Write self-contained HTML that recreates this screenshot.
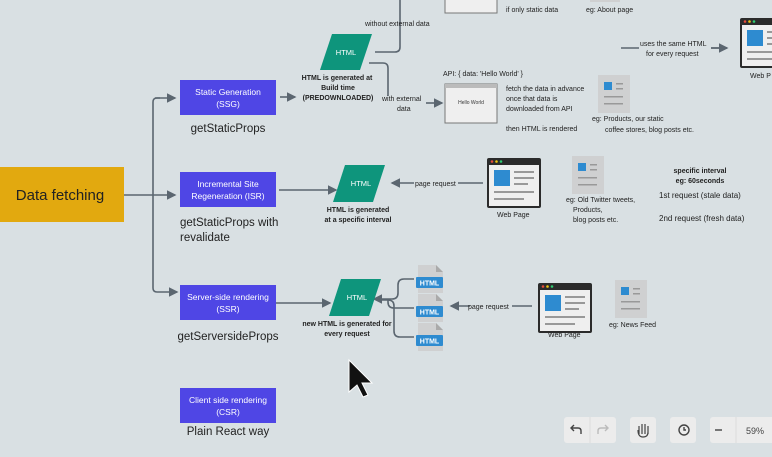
<!DOCTYPE html>
<html><head><meta charset="utf-8"><style>
body{margin:0;width:772px;height:457px;overflow:hidden;background:#d9e0e3;font-family:"Liberation Sans",sans-serif}
svg{display:block}
</style></head><body>
<svg width="772" height="457" viewBox="0 0 772 457" font-family="Liberation Sans, sans-serif">
<defs>
<marker id="a" markerWidth="6" markerHeight="6" refX="5" refY="3" orient="auto"><path d="M0,0L6,3L0,6z" fill="#5b6670"/></marker>
<g id="doc"><rect width="32" height="38" fill="#cfd0d1"/><rect x="6" y="7" width="8" height="8" fill="#2e8bd0"/><rect x="18" y="8" width="7" height="1.5" fill="#999"/><rect x="18" y="13" width="7" height="1.5" fill="#999"/><rect x="6" y="21" width="19" height="1.5" fill="#999"/><rect x="6" y="28" width="19" height="1.5" fill="#999"/></g>
<g id="web"><rect width="54" height="50" rx="2" fill="#2b2b2b"/><rect x="2" y="7" width="50" height="41" fill="#efefef"/><circle cx="5" cy="3.5" r="1.3" fill="#e74c3c"/><circle cx="9.5" cy="3.5" r="1.3" fill="#f1c40f"/><circle cx="14" cy="3.5" r="1.3" fill="#2ecc71"/><rect x="7" y="12" width="16" height="16" fill="#2e8bd0"/><rect x="27" y="13" width="20" height="2" fill="#999"/><rect x="27" y="19" width="20" height="2" fill="#999"/><rect x="27" y="25" width="14" height="2" fill="#999"/><rect x="7" y="33" width="40" height="2" fill="#999"/><rect x="7" y="40" width="30" height="2" fill="#999"/></g>
<g id="file"><path d="M2,0h18l7,7v21h-25z" fill="#cfd0d1"/><path d="M20,0v7h7z" fill="#aaa"/><rect x="0" y="12" width="27" height="11" rx="1" fill="#2e8bd0"/><text x="13.5" y="20.5" font-size="7" font-weight="bold" fill="#fff" text-anchor="middle">HTML</text></g>
</defs>
<g fill="none" stroke="#5b6670" stroke-width="1.6">
<path d="M124,195H150"/>
<path d="M160,98h-3q-4,0-4,4v186q0,4,4,4h20" marker-end="url(#a)"/>
<path d="M150,195h25" marker-end="url(#a)"/>
<path d="M155,98h20" marker-end="url(#a)"/>
<path d="M280,97h15" marker-end="url(#a)"/>
<path d="M375,52h20q5,0,5,-5V0"/>
<path d="M369,63h14q5,0,5,5v28"/>
<path d="M426,103h16" marker-end="url(#a)"/>
<path d="M621,48h18M711,48h16" />
<path d="M711,48h16" marker-end="url(#a)"/>
<path d="M279,190h57" marker-end="url(#a)"/>
<path d="M483,183h-25M414,183h-22" marker-end="url(#a)"/>
<path d="M276,303h54" marker-end="url(#a)"/>
<path d="M532,306h-20M470,306h-19" marker-end="url(#a)"/>
<path d="M414,279h-10q-6,0,-6,6v8q0,6,-6,6h-18" marker-end="url(#a)"/>
<path d="M414,308h-20q-6,0,-6,-6v-2"/>
<path d="M414,337h-14q-6,0,-6,-6v-25q0,-6,-6,-6h-6"/>
</g>
<rect x="0" y="167" width="124" height="55" fill="#e2a90f"/>
<text x="60" y="200" font-size="15" text-anchor="middle" fill="#222">Data fetching</text>
<g fill="#4f46e5"><rect x="180" y="80" width="96" height="35"/><rect x="180" y="172" width="96" height="35"/><rect x="180" y="285" width="96" height="35"/><rect x="180" y="388" width="96" height="35"/></g>
<g font-size="8.5" fill="#fff" text-anchor="middle">
<text x="228" y="95">Static Generation</text><text x="228" y="107">(SSG)</text>
<text x="228" y="187">Incremental Site</text><text x="228" y="199">Regeneration (ISR)</text>
<text x="228" y="300">Server-side rendering</text><text x="228" y="312">(SSR)</text>
<text x="228" y="403">Client side rendering</text><text x="228" y="415">(CSR)</text>
</g>
<g font-size="11.5" fill="#222">
<text x="228" y="132" text-anchor="middle">getStaticProps</text>
<text x="180" y="226">getStaticProps with</text><text x="180" y="241">revalidate</text>
<text x="228" y="340" text-anchor="middle">getServersideProps</text>
<text x="228" y="435" text-anchor="middle">Plain React way</text>
</g>
<g fill="#0e957c"><path d="M332,34h40l-12,36h-40z"/><path d="M345,165h40l-12,37h-40z"/><path d="M341,279h40l-12,37h-40z"/></g>
<g font-size="7.5" fill="#fff" text-anchor="middle"><text x="346" y="55">HTML</text><text x="361" y="186">HTML</text><text x="357" y="300">HTML</text></g>
<g font-size="7" font-weight="bold" fill="#222" text-anchor="middle">
<text x="337" y="80">HTML is generated at</text><text x="338" y="90">Build time</text><text x="338" y="100">(PREDOWNLOADED)</text>
<text x="358" y="212">HTML is generated</text><text x="358" y="222">at a specific interval</text>
<text x="347" y="326">new HTML is generated for</text><text x="347" y="336">every request</text>
<text x="700" y="173">specific interval</text><text x="700" y="183">eg: 60seconds</text>
</g>
<g font-size="7" fill="#222">
<text x="365" y="26">without external data</text>
<text x="382" y="101">with external</text><text x="397" y="111">data</text>
<text x="443" y="76">API: { data: 'Hello World' }</text>
<text x="506" y="91">fetch the data in advance</text><text x="506" y="101">once that data is</text><text x="506" y="111">downloaded from API</text><text x="506" y="131">then HTML is rendered</text>
<text x="592" y="121">eg: Products, our static</text><text x="605" y="132">coffee stores, blog posts etc.</text>
<text x="640" y="46">uses the same HTML</text><text x="646" y="56">for every request</text>
<text x="506" y="12">if only static data</text><text x="586" y="12">eg: About page</text>
<text x="750" y="78">Web P</text>
<text x="415" y="186">page request</text>
<text x="497" y="217">Web Page</text>
<text x="566" y="202">eg: Old Twitter tweets,</text><text x="573" y="212">Products,</text><text x="573" y="222">blog posts etc.</text>
<text x="659" y="198" font-size="8">1st request (stale data)</text><text x="659" y="221" font-size="8">2nd request (fresh data)</text>
<text x="468" y="309">page request</text>
<text x="548" y="337">Web Page</text>
<text x="609" y="327">eg:  News Feed</text>
</g>
<rect x="445" y="-10" width="52" height="23" fill="#efefef" stroke="#777"/>
<rect x="590" y="-10" width="30" height="12" fill="#cfd0d1"/>
<rect x="445" y="84" width="52" height="39" fill="#efefef" stroke="#777"/>
<rect x="445" y="84" width="52" height="4" fill="#bbb"/>
<text x="471" y="104" font-size="5" text-anchor="middle" fill="#333">Hello World</text>
<use href="#doc" x="598" y="75"/>
<use href="#web" x="740" y="18"/>
<use href="#web" x="487" y="158"/>
<use href="#doc" x="572" y="156"/>
<use href="#web" x="538" y="283"/>
<use href="#doc" x="615" y="280"/>
<use href="#file" x="416" y="265"/>
<use href="#file" x="416" y="294"/>
<use href="#file" x="416" y="323"/>
<path d="M349,360L349,392L357,385L363,397L368,395L362,383L372,383Z" fill="#111" stroke="#fff" stroke-width="1"/>
<g fill="#ececec"><rect x="564" y="417" width="52" height="26" rx="3"/><rect x="630" y="417" width="26" height="26" rx="3"/><rect x="670" y="417" width="26" height="26" rx="3"/><rect x="710" y="417" width="70" height="26" rx="3"/></g>
<g stroke="#ddd"><path d="M590,417v26M736,417v26"/></g>
<g fill="none" stroke="#444" stroke-width="1.4"><path d="M581,434v-3q0,-3,-3,-3h-6M574,425l-3,3l3,3"/><path d="M715,430h7"/><circle cx="684" cy="430" r="5"/><path d="M684,427v3h2"/></g>
<g fill="none" stroke="#bbb" stroke-width="1.4"><path d="M598,434v-3q0,-3,3,-3h6M605,425l3,3l-3,3"/></g>
<path d="M639,434v-8M642,434v-10M645,434v-10M648,434v-8M638,430q0,7,5,7q5,0,5,-5" fill="none" stroke="#444" stroke-width="1.2"/>
<text x="746" y="434" font-size="9" fill="#444">59%</text>
</svg>
</body></html>
